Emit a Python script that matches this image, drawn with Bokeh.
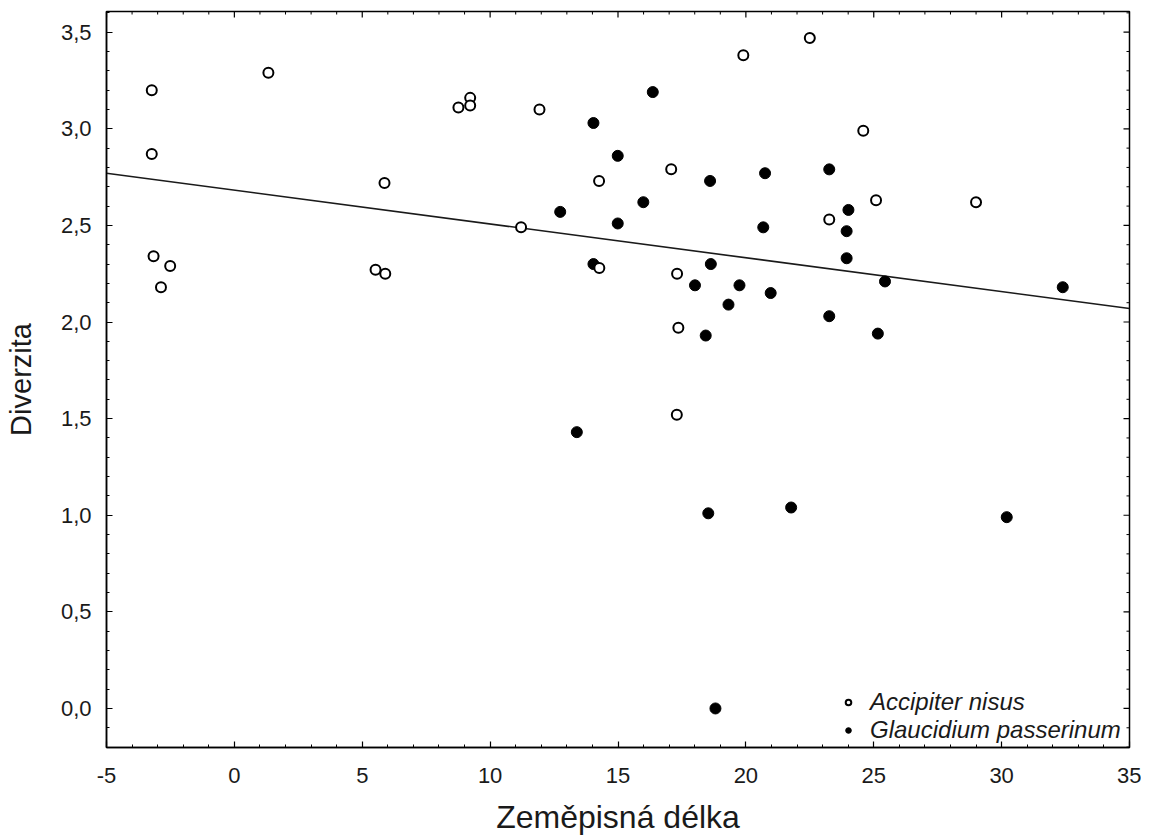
import numpy as np
from bokeh.plotting import figure
from bokeh.models import (FixedTicker, Legend, LegendItem, Range1d)
from bokeh.embed import file_html
from bokeh.resources import INLINE

# ---- data ----
accipiter_x = [-3.23, 1.33, -3.23, 5.87, -3.16, -2.51, -2.87, 5.52, 5.90, 8.76,
               9.22, 9.22, 11.93, 14.26, 17.08, 11.21, 14.27, 17.31, 17.36, 25.09,
               29.00, 23.26, 19.90, 22.50, 24.59, 17.30]
accipiter_y = [3.20, 3.29, 2.87, 2.72, 2.34, 2.29, 2.18, 2.27, 2.25, 3.11,
               3.16, 3.12, 3.10, 2.73, 2.79, 2.49, 2.28, 2.25, 1.97, 2.63,
               2.62, 2.53, 3.38, 3.47, 2.99, 1.52]

glaucidium_x = [16.36, 14.04, 14.99, 18.60, 15.99, 12.74, 14.99, 14.04, 18.63, 18.01,
                19.75, 19.32, 18.43, 20.75, 23.26, 20.68, 24.01, 23.94, 23.94, 25.44,
                32.39, 20.97, 23.26, 25.16, 13.39, 18.53, 21.77, 18.81, 30.20]
glaucidium_y = [3.19, 3.03, 2.86, 2.73, 2.62, 2.57, 2.51, 2.30, 2.30, 2.19,
                2.19, 2.09, 1.93, 2.77, 2.79, 2.49, 2.58, 2.47, 2.33, 2.21,
                2.18, 2.15, 2.03, 1.94, 1.43, 1.01, 1.04, 0.00, 0.99]

fit_intercept = 2.6825
fit_slope = -0.0175

x_ticks = [-5, 0, 5, 10, 15, 20, 25, 30, 35]
x_tick_labels = ["-5", "0", "5", "10", "15", "20", "25", "30", "35"]
y_ticks = [0.0, 0.5, 1.0, 1.5, 2.0, 2.5, 3.0, 3.5]
y_tick_labels = ["0,0", "0,5", "1,0", "1,5", "2,0", "2,5", "3,0", "3,5"]

series_names = ["Accipiter nisus", "Glaucidium passerinum"]
x_title = "Zeměpisná délka"
y_title = "Diverzita"

X_MIN, X_MAX = -5.0, 35.0
Y_MIN, Y_MAX = -0.202, 3.607

FONT = "Liberation Sans"
INK = "#1a1a1a"

p = figure(width=1141, height=837, output_backend="svg", toolbar_location=None,
           x_range=Range1d(X_MIN, X_MAX), y_range=Range1d(Y_MIN, Y_MAX),
           min_border_left=106, min_border_right=12, min_border_top=11,
           min_border_bottom=83)
p.background_fill_color = "white"
p.border_fill_color = "white"
p.outline_line_color = "black"
p.outline_line_width = 1.5
p.grid.visible = False

x_minor = [v for v in np.arange(X_MIN, X_MAX + 0.01, 1.0) if v not in x_ticks]
y_minor = [round(v, 2) for v in np.arange(-0.2, 3.61, 0.1)
           if round(v, 2) not in y_ticks]

def style(ax):
    ax.axis_line_color = "black"
    ax.axis_line_width = 1.5
    ax.major_tick_in = 6
    ax.major_tick_out = 0
    ax.minor_tick_in = 3
    ax.minor_tick_out = 0
    ax.major_tick_line_color = "black"
    ax.minor_tick_line_color = "black"
    ax.major_tick_line_width = 1.2
    ax.minor_tick_line_width = 1
    ax.major_label_text_font = FONT
    ax.major_label_text_color = INK
    ax.major_label_text_font_size = "22px"

xa = p.xaxis[0]
xa.ticker = FixedTicker(ticks=x_ticks, minor_ticks=x_minor)
style(xa)
xa.major_label_overrides = {t: l for t, l in zip(x_ticks, x_tick_labels)}
xa.major_label_standoff = 20
xa.axis_label = x_title
xa.axis_label_text_font = FONT
xa.axis_label_text_font_size = "32px"
xa.axis_label_text_font_style = "normal"
xa.axis_label_text_color = INK
xa.axis_label_standoff = 13

ya = p.yaxis[0]
ya.ticker = FixedTicker(ticks=y_ticks, minor_ticks=y_minor)
style(ya)
ya.major_label_overrides = {t: l for t, l in zip(y_ticks, y_tick_labels)}
ya.major_label_standoff = 15
ya.axis_label = y_title
ya.axis_label_text_font = FONT
ya.axis_label_text_font_size = "29px"
ya.axis_label_text_font_style = "normal"
ya.axis_label_text_color = INK
ya.axis_label_standoff = 21

# mirrored inward ticks on top and right edges (dash markers clipped by the frame)
p.scatter(x_ticks, [Y_MAX] * len(x_ticks), marker="dash", angle=np.pi / 2,
          size=12, line_color="black", line_width=1.2)
p.scatter(x_minor, [Y_MAX] * len(x_minor), marker="dash", angle=np.pi / 2,
          size=6, line_color="black", line_width=1)
p.scatter([X_MAX] * len(y_ticks), y_ticks, marker="dash",
          size=12, line_color="black", line_width=1.2)
p.scatter([X_MAX] * len(y_minor), y_minor, marker="dash",
          size=6, line_color="black", line_width=1)

# regression line
lx = np.array([X_MIN, X_MAX])
ly = fit_intercept + fit_slope * lx
p.line(lx, ly, line_color=INK, line_width=1.6)

r_g = p.scatter(glaucidium_x, glaucidium_y, marker="circle", size=11,
                fill_color="black", line_color="black", line_width=1)
r_a = p.scatter(accipiter_x, accipiter_y, marker="circle", size=10,
                fill_color="white", line_color="black", line_width=2)

legend = Legend(items=[LegendItem(label=series_names[0], renderers=[r_a]),
                       LegendItem(label=series_names[1], renderers=[r_g])],
                location=(735, 3))
legend.label_text_font = FONT
legend.label_text_font_size = "24px"
legend.label_text_font_style = "italic"
legend.label_text_color = INK
legend.border_line_color = None
legend.background_fill_alpha = 0
legend.glyph_width = 14
legend.glyph_height = 20
legend.label_height = 20
legend.label_standoff = 15
legend.spacing = 0
legend.padding = 0
legend.margin = 0
p.add_layout(legend, "center")

open("out.html", "w").write(file_html(p, INLINE))
